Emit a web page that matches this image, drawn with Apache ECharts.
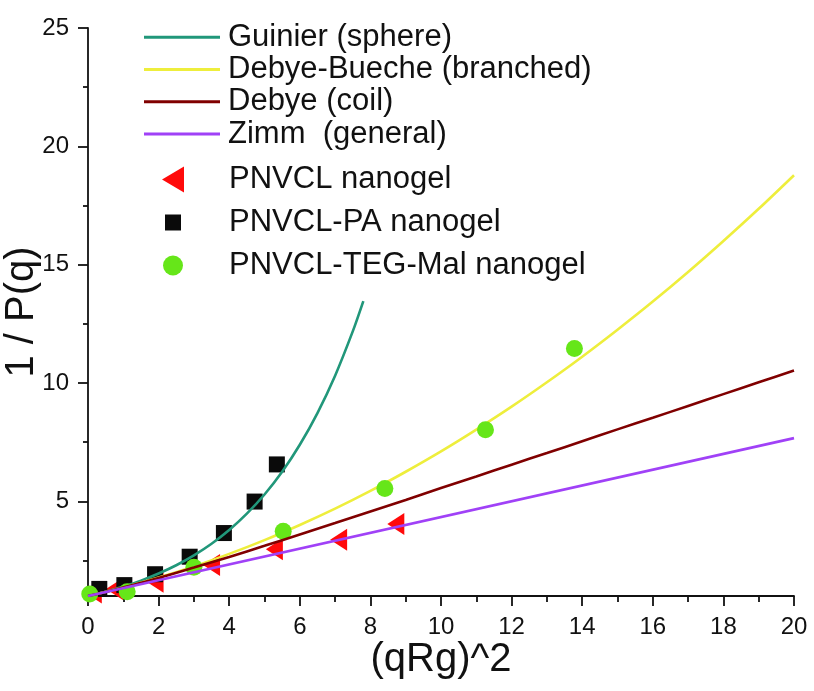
<!DOCTYPE html>
<html><head><meta charset="utf-8">
<script src="https://cdn.jsdelivr.net/npm/echarts@6/dist/echarts.min.js"></script>
<style>html,body{margin:0;padding:0;background:#fff}#c{width:814px;height:691px}</style>
</head><body><div id="c"></div><script>
// Model curves
const guinierX = [0, 0.5, 1, 1.5, 2, 2.5, 3, 3.5, 4, 4.5, 5, 5.5, 6, 6.5, 7, 7.5, 7.8];
const guinierY = [1, 1.18, 1.40, 1.65, 1.95, 2.30, 2.72, 3.21, 3.79, 4.48, 5.29, 6.25, 7.39, 8.73, 10.31, 12.18, 13.46];
const debyeBuecheX = [0, 1, 2, 3, 4, 5, 6, 7, 8, 9, 10, 11, 12, 13, 14, 15, 16, 17, 18, 19, 20];
const debyeBuecheY = [1, 1.36, 1.78, 2.25, 2.78, 3.36, 4.00, 4.69, 5.44, 6.25, 7.11, 8.03, 9.00, 10.03, 11.11, 12.25, 13.44, 14.69, 16.00, 17.36, 18.78];
const debyeX = [0, 0.5, 1, 2, 3, 4, 5, 6, 7, 8, 9, 10, 11, 12, 13, 14, 15, 16, 17, 18, 19, 20];
const debyeY = [1, 1.17, 1.36, 1.76, 2.20, 2.65, 3.12, 3.60, 4.08, 4.57, 5.06, 5.56, 6.05, 6.55, 7.04, 7.54, 8.04, 8.53, 9.03, 9.53, 10.03, 10.53];
const zimmX = [0, 20];
const zimmY = [1, 7.67];
// Measured data
const pnvclX = [0.15, 0.75, 1.9, 3.5, 5.28, 7.1, 8.72];
const pnvclY = [1.15, 1.3, 1.6, 2.31, 2.98, 3.38, 4.04];
const pnvclPaX = [0.32, 1.03, 1.9, 2.88, 3.85, 4.72, 5.35];
const pnvclPaY = [1.3, 1.46, 1.92, 2.66, 3.66, 4.99, 6.56];
const tegX = [0.05, 1.11, 3.0, 5.53, 8.41, 11.26, 13.78];
const tegY = [1.08, 1.18, 2.21, 3.74, 5.54, 8.02, 11.46];
// Axis ticks
const yLabelValues = [5, 10, 15, 20, 25];
const yMinorValues = [2.5, 7.5, 12.5, 17.5, 22.5];

const zip = (xs, ys) => xs.map((x, i) => [x, ys[i]]);
const FONT = "'Liberation Sans', Arial, sans-serif";

const chart = echarts.init(document.getElementById('c'), null, {renderer: 'canvas'});
const lineNames = ['Guinier (sphere)', 'Debye-Bueche (branched)', 'Debye (coil)', 'Zimm  (general)'];
const pointNames = ['PNVCL nanogel', 'PNVCL-PA nanogel', 'PNVCL-TEG-Mal nanogel'];
const pointIcons = [
  'path://M0,0 M28,28 M3,14 L25,1 L25,27 Z',
  'path://M0,0 M28,28 M6,6 L22,6 L22,22 L6,22 Z',
  'path://M0,0 M28,28 M4,14 A10,10 0 1,1 24,14 A10,10 0 1,1 4,14 Z'
];

function lineSeries(name, xs, ys, color, z) {
  return {name, type: 'line', data: zip(xs, ys), smooth: 0.3, showSymbol: false, symbol: 'none',
    lineStyle: {color, width: 2.6}, itemStyle: {color}, z, silent: true, animation: false};
}

chart.setOption({
  animation: false,
  backgroundColor: '#fff',
  grid: {left: 88, right: 20, top: 28, bottom: 95, containLabel: false, outerBoundsMode: 'none'},
  legend: [{
    data: lineNames.map(n => ({name: n, icon: 'rect'})), orient: 'vertical', left: 144, top: 21, padding: 0, itemGap: 0,
    itemWidth: 76, itemHeight: 3,
    textStyle: {fontFamily: FONT, fontSize: 31, color: '#111', lineHeight: 32.3, padding: [0, 0, 0, 3]}
  }, {
    data: pointNames.map((n, i) => ({name: n, icon: pointIcons[i]})), orient: 'vertical', left: 159, top: 158, padding: 0, itemGap: 0,
    itemWidth: 28, itemHeight: 28,
    textStyle: {fontFamily: FONT, fontSize: 31, color: '#111', lineHeight: 43, padding: [0, 0, 0, 37]}
  }],
  xAxis: {
    type: 'value', min: 0, max: 20, interval: 2,
    name: '(qRg)^2', nameLocation: 'middle', nameGap: 44, nameMoveOverlap: false,
    nameTextStyle: {fontFamily: FONT, fontSize: 40, color: '#111'},
    axisLine: {show: true, onZero: false, lineStyle: {color: '#111', width: 1.8}},
    axisTick: {show: true, inside: false, length: 10, lineStyle: {color: '#111', width: 1.8}},
    minorTick: {show: true, splitNumber: 2, length: 6, lineStyle: {color: '#111', width: 1.8}},
    axisLabel: {fontFamily: FONT, fontSize: 24, color: '#111', margin: 19},
    splitLine: {show: false}
  },
  yAxis: [{
    type: 'value', min: 1, max: 25,
    name: '1 / P(q)', nameLocation: 'middle', nameGap: 46, nameRotate: 90, nameMoveOverlap: false,
    nameTextStyle: {fontFamily: FONT, fontSize: 40, color: '#111'},
    axisLine: {show: true, onZero: false, lineStyle: {color: '#111', width: 1.8}},
    axisTick: {show: true, inside: false, length: 10, customValues: yLabelValues, lineStyle: {color: '#111', width: 1.8}},
    axisLabel: {fontFamily: FONT, fontSize: 24, color: '#111', margin: 19, customValues: yLabelValues},
    splitLine: {show: false}
  }, {
    type: 'value', min: 1, max: 25, position: 'left', offset: 0,
    axisLine: {show: false},
    axisTick: {show: true, inside: false, length: 5, customValues: yMinorValues, lineStyle: {color: '#111', width: 1.8}},
    axisLabel: {show: false},
    splitLine: {show: false}
  }],
  series: [
    {name: pointNames[0], type: 'scatter', data: zip(pnvclX, pnvclY), symbol: 'triangle', symbolRotate: 90,
      symbolSize: [22, 17], itemStyle: {color: '#ff0a0a', opacity: 1}, z: 2},
    {name: pointNames[1], type: 'scatter', data: zip(pnvclPaX, pnvclPaY), symbol: 'rect',
      symbolSize: 16, itemStyle: {color: '#0a0a0a', opacity: 1}, z: 2},
    lineSeries(lineNames[0], guinierX, guinierY, '#21977a', 3),
    lineSeries(lineNames[1], debyeBuecheX, debyeBuecheY, '#eeee3c', 3),
    {name: pointNames[2], type: 'scatter', data: zip(tegX, tegY), symbol: 'circle',
      symbolSize: 17, itemStyle: {color: '#66e619', opacity: 1}, z: 4},
    lineSeries(lineNames[2], debyeX, debyeY, '#800000', 5),
    lineSeries(lineNames[3], zimmX, zimmY, '#a041f7', 6)
  ]
});
</script></body></html>
